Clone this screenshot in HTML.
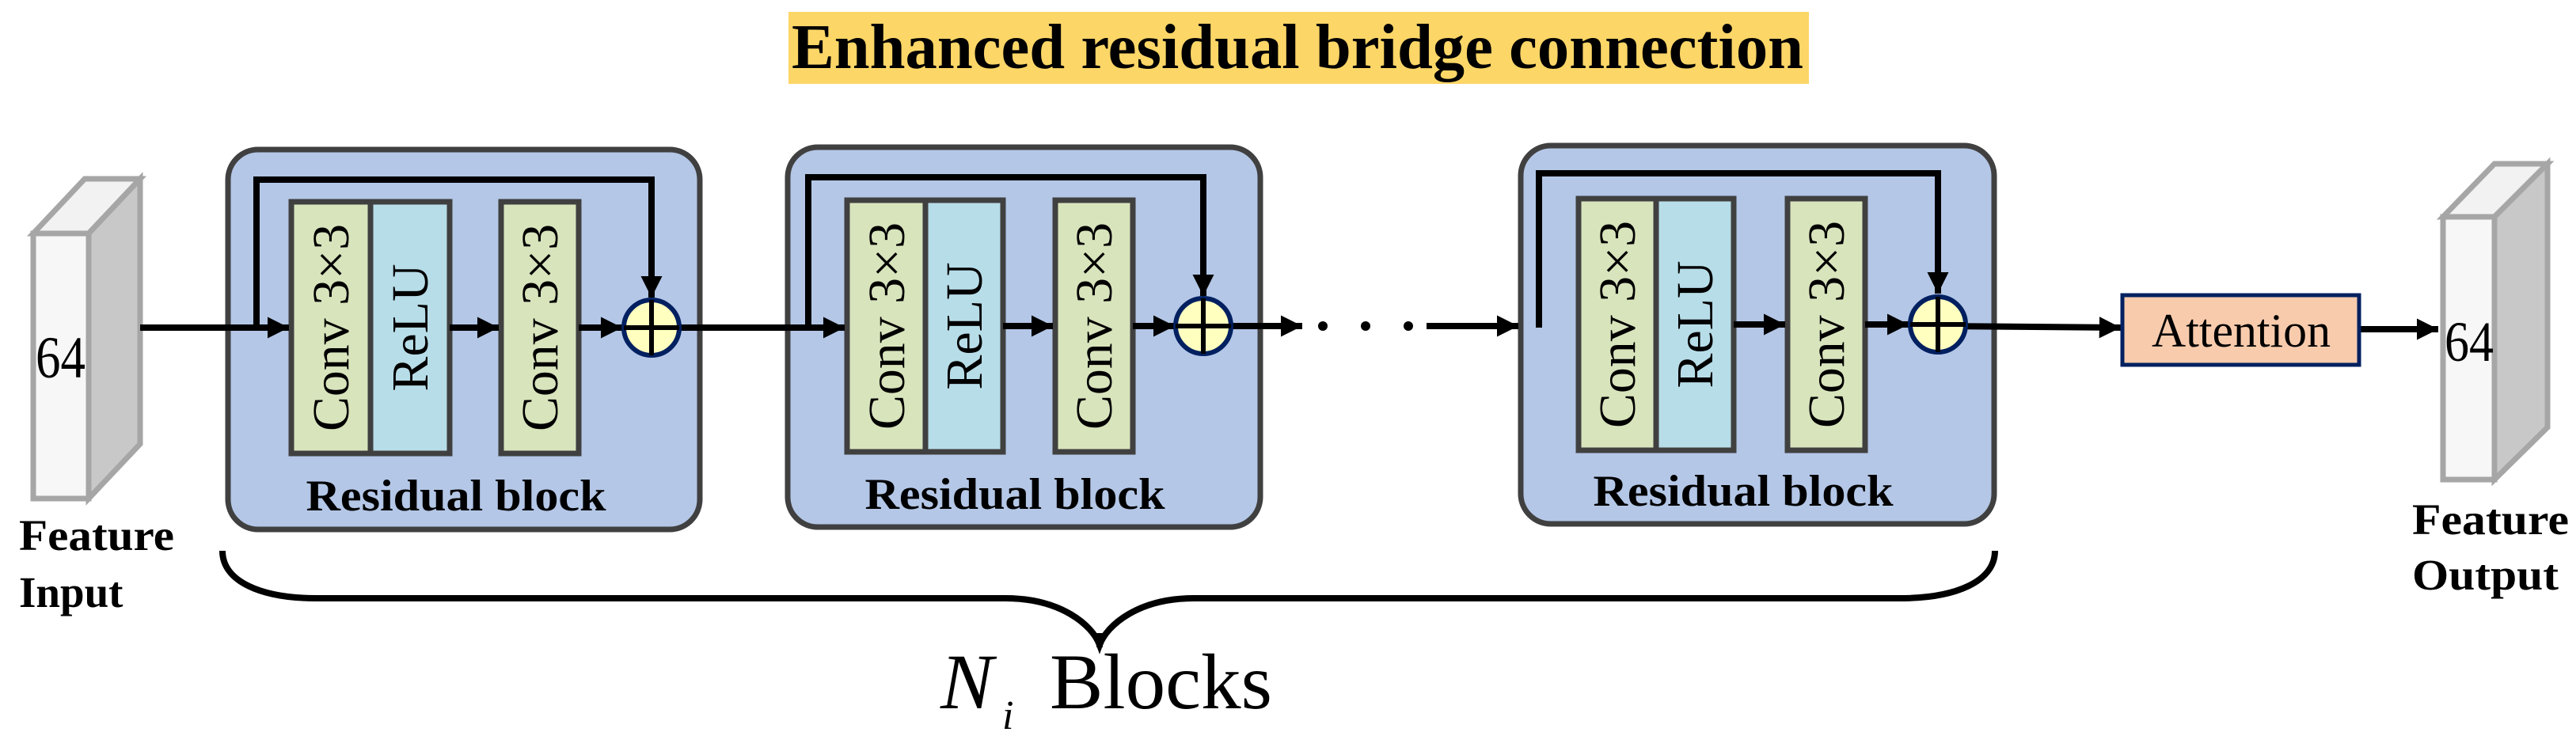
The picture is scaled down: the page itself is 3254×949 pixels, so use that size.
<!DOCTYPE html>
<html><head><meta charset="utf-8"><style>html,body{margin:0;padding:0;background:#fff}svg{display:block}</style></head>
<body>
<svg width="3254" height="949" viewBox="0 0 3254 949" xmlns="http://www.w3.org/2000/svg" font-family="'Liberation Serif', serif">
<defs>
<marker id="ah" viewBox="0 0 10 10" refX="10" refY="5" markerWidth="3.4" markerHeight="3.4" markerUnits="strokeWidth" orient="auto"><path d="M0,0 L10,5 L0,10 z" fill="#000"/></marker>
</defs>
<rect x="996" y="15" width="1289" height="91" fill="#fcd667"/>
<text x="1000" y="86" font-size="80" font-weight="bold" textLength="1278" lengthAdjust="spacingAndGlyphs">Enhanced residual bridge connection</text>

<g stroke="#a6a6a6" stroke-width="7" stroke-linejoin="miter">
<polygon points="42,295 107,226 177,226 112,295" fill="#f2f2f2"/>
<polygon points="112,295 177,226 177,561 112,630" fill="#c8c8c8"/>
<rect x="42" y="295" width="70" height="335" fill="#f7f7f7"/>
</g>
<text x="45" y="477" font-size="75" textLength="63" lengthAdjust="spacingAndGlyphs">64</text>
<text x="24" y="695" font-size="55" font-weight="bold" textLength="196" lengthAdjust="spacingAndGlyphs">Feature</text>
<text x="24" y="767" font-size="55" font-weight="bold">Input</text>

<g stroke="#a6a6a6" stroke-width="7">
<polygon points="3086,274 3151,207 3218,207 3151,274" fill="#f2f2f2"/>
<polygon points="3151,274 3218,207 3218,540 3151,606" fill="#c8c8c8"/>
<rect x="3086" y="274" width="65" height="332" fill="#f7f7f7"/>
</g>
<text x="3088" y="456" font-size="72" textLength="62" lengthAdjust="spacingAndGlyphs">64</text>
<text x="3047" y="675" font-size="55" font-weight="bold" textLength="198" lengthAdjust="spacingAndGlyphs">Feature</text>
<text x="3047" y="745" font-size="55" font-weight="bold" textLength="185" lengthAdjust="spacingAndGlyphs">Output</text>

<g stroke="#404040" stroke-width="7" fill="#b4c7e7">
<rect x="288" y="189" width="596" height="480" rx="38"/>
<rect x="995" y="186" width="597" height="480" rx="38"/>
<rect x="1921" y="184" width="598" height="478" rx="38"/>
</g>
<g stroke="#404040" stroke-width="7">
<rect x="368" y="255" width="100" height="318" fill="#d8e4bc"/>
<rect x="468" y="255" width="100" height="318" fill="#b7dde8"/>
<rect x="633" y="255" width="98" height="318" fill="#d8e4bc"/>
<rect x="1070" y="253" width="99" height="318" fill="#d8e4bc"/>
<rect x="1169" y="253" width="98" height="318" fill="#b7dde8"/>
<rect x="1333" y="253" width="98" height="318" fill="#d8e4bc"/>
<rect x="1994" y="251" width="98" height="318" fill="#d8e4bc"/>
<rect x="2092" y="251" width="98" height="318" fill="#b7dde8"/>
<rect x="2258" y="251" width="98" height="318" fill="#d8e4bc"/>
</g>
<g font-size="66" text-anchor="middle">
<text transform="translate(440,414) rotate(-90)" textLength="262" lengthAdjust="spacingAndGlyphs">Conv 3×3</text>
<text transform="translate(540,414) rotate(-90)">ReLU</text>
<text transform="translate(704,414) rotate(-90)" textLength="262" lengthAdjust="spacingAndGlyphs">Conv 3×3</text>
<text transform="translate(1142,412) rotate(-90)" textLength="262" lengthAdjust="spacingAndGlyphs">Conv 3×3</text>
<text transform="translate(1240,412) rotate(-90)">ReLU</text>
<text transform="translate(1404,412) rotate(-90)" textLength="262" lengthAdjust="spacingAndGlyphs">Conv 3×3</text>
<text transform="translate(2065,410) rotate(-90)" textLength="262" lengthAdjust="spacingAndGlyphs">Conv 3×3</text>
<text transform="translate(2163,410) rotate(-90)">ReLU</text>
<text transform="translate(2329,410) rotate(-90)" textLength="262" lengthAdjust="spacingAndGlyphs">Conv 3×3</text>
</g>
<g font-size="56" font-weight="bold" text-anchor="middle">
<text x="576" y="645" textLength="379" lengthAdjust="spacingAndGlyphs">Residual block</text>
<text x="1282" y="643" textLength="379" lengthAdjust="spacingAndGlyphs">Residual block</text>
<text x="2202" y="639" textLength="379" lengthAdjust="spacingAndGlyphs">Residual block</text>
</g>

<g stroke="#000" stroke-width="8" fill="none">
<line x1="177" y1="414" x2="365" y2="414" marker-end="url(#ah)"/>
<polyline points="324,414 324,227 823,227 823,376" marker-end="url(#ah)"/>
<line x1="568" y1="414" x2="630" y2="414" marker-end="url(#ah)"/>
<line x1="731" y1="414" x2="786" y2="414" marker-end="url(#ah)"/>
<line x1="823" y1="414" x2="1067" y2="414" marker-end="url(#ah)"/>
<polyline points="1021,414 1021,224 1520,224 1520,374" marker-end="url(#ah)"/>
<line x1="1267" y1="412" x2="1330" y2="412" marker-end="url(#ah)"/>
<line x1="1431" y1="412" x2="1484" y2="412" marker-end="url(#ah)"/>
<line x1="1520" y1="412" x2="1645" y2="412" marker-end="url(#ah)"/>
<line x1="1802" y1="412" x2="1918" y2="412" marker-end="url(#ah)"/>
<polyline points="1944,414 1944,219 2448,219 2448,371" marker-end="url(#ah)"/>
<line x1="2190" y1="410" x2="2255" y2="410" marker-end="url(#ah)"/>
<line x1="2356" y1="410" x2="2411" y2="410" marker-end="url(#ah)"/>
<line x1="2448" y1="412" x2="2679" y2="414" marker-end="url(#ah)"/>
<line x1="2982" y1="416" x2="3080" y2="416" marker-end="url(#ah)"/>
</g>
<g fill="#000">
<circle cx="1671" cy="412" r="6"/><circle cx="1725" cy="412" r="6"/><circle cx="1779" cy="412" r="6"/>
</g>

<g stroke="#002060" stroke-width="6" fill="#ffffbf">
<circle cx="823" cy="414" r="35"/>
<circle cx="1520" cy="412" r="35"/>
<circle cx="2448" cy="410" r="35"/>
</g>
<g stroke="#000" stroke-width="6">
<line x1="788" y1="414" x2="858" y2="414"/><line x1="823" y1="379" x2="823" y2="449"/>
<line x1="1485" y1="412" x2="1555" y2="412"/><line x1="1520" y1="377" x2="1520" y2="447"/>
<line x1="2413" y1="410" x2="2483" y2="410"/><line x1="2448" y1="375" x2="2448" y2="445"/>
</g>

<rect x="2681" y="373" width="299" height="88" fill="#f8cbad" stroke="#002060" stroke-width="5"/>
<text x="2831" y="438" font-size="60" text-anchor="middle" textLength="226" lengthAdjust="spacingAndGlyphs">Attention</text>

<path d="M281,696 C281,735 330,756 400,756 L1270,756 C1340,756 1380,790 1389,815 C1398,790 1438,756 1508,756 L2400,756 C2470,756 2520,735 2520,696" stroke="#000" stroke-width="8" fill="none"/>
<line x1="1389" y1="800" x2="1389" y2="818" stroke="#000" stroke-width="8"/>
<text x="1188" y="895" font-size="100" font-style="italic">N</text>
<text x="1266" y="921" font-size="52" font-style="italic">i</text>
<text x="1326" y="895" font-size="100" textLength="281" lengthAdjust="spacingAndGlyphs">Blocks</text>
</svg>
</body></html>
